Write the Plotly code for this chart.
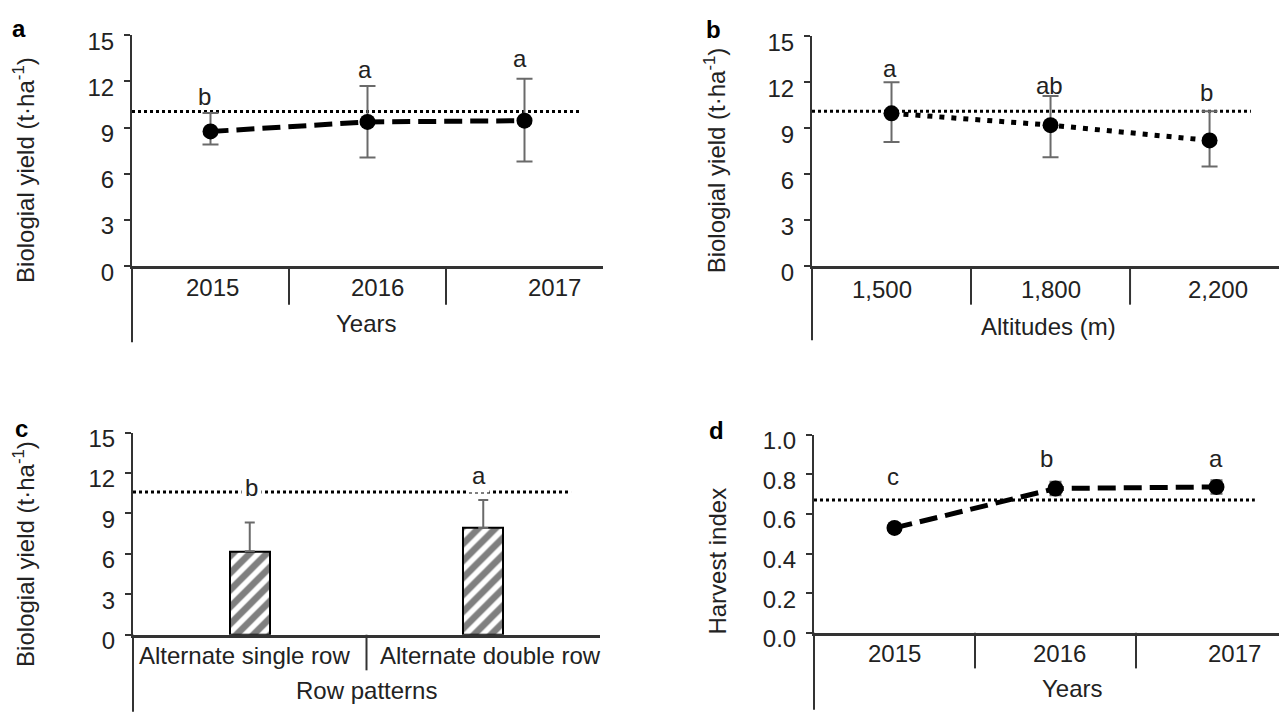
import plotly.graph_objects as go

# ---------------- data ----------------
years = ["2015", "2016", "2017"]
yield_by_year = [8.75, 9.37, 9.45]
yield_by_year_up = [1.2, 2.33, 2.72]
yield_by_year_down = [0.85, 2.31, 2.65]
yield_by_year_ref = 10.05
yield_by_year_letters = ["b", "a", "a"]
yield_by_year_letter_y = [11.0, 12.8, 13.5]

altitudes = ["1,500", "1,800", "2,200"]
yield_by_alt = [9.97, 9.2, 8.2]
yield_by_alt_up = [2.03, 1.9, 1.9]
yield_by_alt_down = [1.87, 2.1, 1.7]
yield_by_alt_ref = 10.1
yield_by_alt_letters = ["a", "ab", "b"]
yield_by_alt_letter_y = [12.9, 11.8, 11.3]

row_patterns = ["Alternate single row", "Alternate double row"]
yield_by_row = [6.19, 7.93]
yield_by_row_up = [2.14, 2.07]
yield_by_row_ref = 10.6
yield_by_row_letters = ["b", "a"]
yield_by_row_letter_y = [10.9, 11.8]

hi_years = ["2015", "2016", "2017"]
harvest_index = [0.529, 0.728, 0.736]
harvest_index_err = [0.02, 0.034, 0.034]
harvest_index_ref = 0.67
harvest_index_letters = ["c", "b", "a"]
harvest_index_letter_y = [0.79, 0.877, 0.88]

yticks_yield = [0, 3, 6, 9, 12, 15]
yticks_hi = [0.0, 0.2, 0.4, 0.6, 0.8, 1.0]

# ---------------- style ----------------
PAGE_OFF = 8            # default body margin of the html page
W, H = 1287 - PAGE_OFF, 723 - PAGE_OFF
FONT = "Liberation Sans, Arial, Helvetica, sans-serif"
TXT = "#222222"
AX = "#333333"
ERR = "#6a6a6a"
FS = 24


def px_x(p):
    return min(max((p - PAGE_OFF) / W, 0.0), 1.0)


def px_y(p):
    return min(max(1 - (p - PAGE_OFF) / H, 0.0), 1.0)


def xd(p0, p1):
    return [px_x(p0), px_x(p1)]


def yd(p_bottom, p_top):
    return [px_y(p_bottom), px_y(p_top)]


fig = go.Figure()

# panel a
fig.add_trace(go.Scatter(
    x=years, y=yield_by_year, mode="lines+markers", xaxis="x", yaxis="y",
    line=dict(color="black", width=5, dash="18px,8px"),
    marker=dict(color="black", size=16),
    error_y=dict(type="data", symmetric=False, array=yield_by_year_up,
                 arrayminus=yield_by_year_down, color=ERR, thickness=2, width=8),
    showlegend=False))

# panel b
fig.add_trace(go.Scatter(
    x=altitudes, y=yield_by_alt, mode="lines+markers", xaxis="x2", yaxis="y2",
    line=dict(color="black", width=5, dash="5px,7px"),
    marker=dict(color="black", size=16),
    error_y=dict(type="data", symmetric=False, array=yield_by_alt_up,
                 arrayminus=yield_by_alt_down, color=ERR, thickness=2, width=8),
    showlegend=False))

# panel c
fig.add_trace(go.Bar(
    x=row_patterns, y=yield_by_row, xaxis="x3", yaxis="y3", width=0.17,
    marker=dict(color="white", line=dict(color="black", width=2),
                pattern=dict(shape="/", fgcolor="black", bgcolor="white",
                             size=12, solidity=0.55)),
    error_y=dict(type="data", symmetric=False, array=yield_by_row_up,
                 arrayminus=[0] * len(yield_by_row_up), color=ERR, thickness=2, width=5),
    showlegend=False))

# panel d
fig.add_trace(go.Scatter(
    x=hi_years, y=harvest_index, mode="lines+markers", xaxis="x4", yaxis="y4",
    line=dict(color="black", width=5, dash="18px,8px"),
    marker=dict(color="black", size=16),
    error_y=dict(type="data", array=harvest_index_err, color=ERR, thickness=2, width=6),
    showlegend=False))

common_x = dict(type="category", showline=True, linecolor=AX, linewidth=2.5,
                ticks="", showgrid=False, zeroline=False, showticklabels=False,
                fixedrange=True)
common_y = dict(showline=True, linecolor=AX, linewidth=2, ticks="outside",
                ticklen=6, tickwidth=2, tickcolor=AX, showgrid=False,
                zeroline=False, ticklabelstandoff=5, ticklabelshift=6,
                tickfont=dict(family=FONT, size=FS, color=TXT), fixedrange=True)

fig.update_layout(
    width=W, height=H, margin=dict(l=0, r=0, t=0, b=0),
    paper_bgcolor="white", plot_bgcolor="white",
    font=dict(family=FONT, size=FS, color=TXT),
    bargap=0,
    xaxis=dict(common_x, domain=xd(132, 603), anchor="y", range=[-0.5, 2.5]),
    yaxis=dict(common_y, domain=yd(268, 28), anchor="x", range=[0, 15], tickvals=yticks_yield),
    xaxis2=dict(common_x, domain=xd(812, 1287), anchor="y2", range=[-0.5, 2.487]),
    yaxis2=dict(common_y, domain=yd(268, 29), anchor="x2", range=[0, 15], tickvals=yticks_yield),
    xaxis3=dict(common_x, domain=xd(133, 600), anchor="y3", range=[-0.5, 1.5]),
    yaxis3=dict(common_y, domain=yd(651, 441), anchor="x3", range=[0, 15], tickvals=yticks_yield),
    xaxis4=dict(common_x, domain=xd(814, 1287), anchor="y4", range=[-0.5, 2.438]),
    yaxis4=dict(common_y, domain=yd(649, 443), anchor="x4", range=[0, 1],
                tickvals=yticks_hi, tickformat=".1f"),
)

shapes = []
annotations = []

panels = [
    # xa, ya, plot pixel height, y-axis extension px, divider px, ref value, ref end frac, n cats
    ("x", "y", 240, 79, 40, yield_by_year_ref, 0.951, 3),
    ("x2", "y2", 239, 77, 40, yield_by_alt_ref, 0.924, 3),
    ("x3", "y3", 210, 80, 37, yield_by_row_ref, 0.938, 2),
    ("x4", "y4", 206, 80, 37, harvest_index_ref, 0.932, 3),
]
for xa, ya, ph, ext, div, ref, refend, n in panels:
    shapes.append(dict(type="line", xref=f"{xa} domain", yref=f"{ya} domain",
                       x0=0, x1=0, y0=0, y1=-ext / ph,
                       line=dict(color=AX, width=2)))
    for k in range(n - 1):
        shapes.append(dict(type="line", xref=xa, yref=f"{ya} domain",
                           x0=k + 0.5, x1=k + 0.5, y0=0, y1=-div / ph,
                           line=dict(color=AX, width=2)))
    shapes.append(dict(type="line", xref=f"{xa} domain", yref=ya,
                       x0=0, x1=refend, y0=ref, y1=ref, layer="below",
                       line=dict(color="black", width=3, dash="dot")))

# category labels under the x axes (x given as category index)
cat_sets = [
    ("x", years, 290, [2, 10, 30]),
    ("x2", altitudes, 292, [-10, 0, 8]),
    ("x3", row_patterns, 673, [-5, 7]),
    ("x4", hi_years, 670, [0, 4, 18]),
]
for xa, cats, py, shifts in cat_sets:
    for i, (c, s) in enumerate(zip(cats, shifts)):
        annotations.append(dict(x=i, y=px_y(py), xref=xa, yref="paper", text=c,
                                showarrow=False, xshift=s, yanchor="middle",
                                font=dict(family=FONT, size=FS, color=TXT)))

# significance letters above the points
letter_sets = [
    ("x", "y", yield_by_year_letters, yield_by_year_letter_y, [-6, -3, -5]),
    ("x2", "y2", yield_by_alt_letters, yield_by_alt_letter_y, [-2, -1, -3]),
    ("x3", "y3", yield_by_row_letters, yield_by_row_letter_y, [2, -4]),
    ("x4", "y4", harvest_index_letters, harvest_index_letter_y, [-2, -9, 0]),
]
for xa, ya, letters, ys, shifts in letter_sets:
    for i, (l, yv, s) in enumerate(zip(letters, ys, shifts)):
        ann = dict(x=i, y=yv, xref=xa, yref=ya, text=l, showarrow=False,
                   xshift=s, font=dict(family=FONT, size=FS, color=TXT))
        if xa == "x3":
            ann.update(bgcolor="white", borderpad=3)
        annotations.append(ann)

# panel letters
for lab, px, py in [("a", 19, 21), ("b", 713, 22), ("c", 21, 437), ("d", 716, 439)]:
    annotations.append(dict(x=px_x(px), y=px_y(py), xref="paper", yref="paper",
                            text=f"<b>{lab}</b>", showarrow=False,
                            xanchor="center", yanchor="middle",
                            font=dict(family=FONT, size=FS, color="black")))

# y axis titles
ytitle = "Biologial yield (t·ha<sup>-1</sup>)"
for txt, px, py in [(ytitle, 24, 168), (ytitle, 715, 158), (ytitle, 24, 567),
                    ("Harvest index", 718, 575)]:
    annotations.append(dict(x=px_x(px), y=px_y(py), xref="paper", yref="paper",
                            text=txt, textangle=-90, showarrow=False,
                            xanchor="center", yanchor="middle",
                            font=dict(family=FONT, size=FS, color=TXT)))

# x axis titles
for txt, px, py in [("Years", 367, 328), ("Altitudes (m)", 1048, 331),
                    ("Row patterns", 367, 709), ("Years", 1072, 707)]:
    annotations.append(dict(x=px_x(px), y=px_y(py), xref="paper", yref="paper",
                            text=txt, showarrow=False,
                            xanchor="center", yanchor="middle",
                            font=dict(family=FONT, size=FS, color=TXT)))

fig.update_layout(shapes=shapes, annotations=annotations)
fig.write_html("out.html")
